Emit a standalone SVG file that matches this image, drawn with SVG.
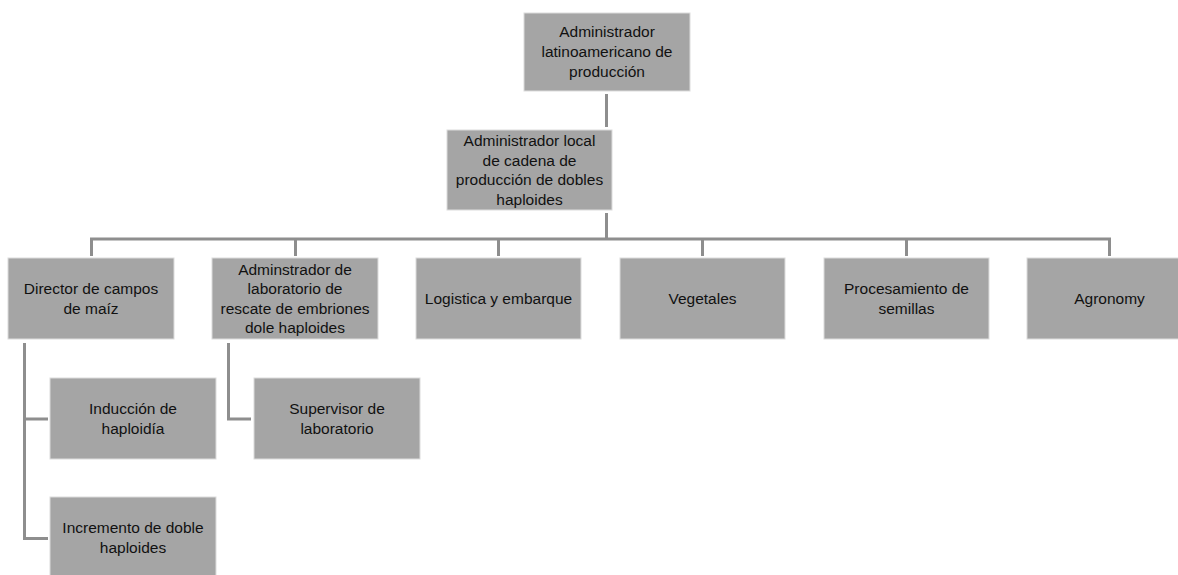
<svg xmlns="http://www.w3.org/2000/svg" width="1178" height="575" viewBox="0 0 1178 575">
<style>
.box{fill:#a5a5a5;stroke:#dcdcdc;stroke-width:1}
.t{font-family:"Liberation Sans",Arial,sans-serif;font-size:15.5px;fill:#111;text-anchor:middle}
.c{stroke:#8e8e8e;stroke-width:3;fill:none}
</style>
<rect width="1178" height="575" fill="#fff"/>
<g id="connectors">
<path class="c" d="M606.5 94V127"/>
<path class="c" d="M606.5 213V239"/>
<path class="c" d="M91.5 256V239H1109.5V256"/>
<path class="c" d="M295.5 239V256M498.5 239V256M702.5 239V256M906.5 239V256"/>
<path class="c" d="M48 419H24.5V343M24.5 419V538.5H48"/>
<path class="c" d="M251 419H228.5V343"/>
</g>
<g id="n_top"><rect class="box" x="524" y="13" width="166" height="78"/>
<text class="t" x="607" y="37">Administrador</text><text class="t" x="607" y="57">latinoamericano de</text><text class="t" x="607" y="77">producción</text></g>
<g id="n_local"><rect class="box" x="447" y="130" width="165" height="80"/>
<text class="t" x="529.5" y="146">Administrador local</text><text class="t" x="529.5" y="165.5">de cadena de</text><text class="t" x="529.5" y="185">producción de dobles</text><text class="t" x="529.5" y="204.5">haploides</text></g>
<g id="n_director"><rect class="box" x="8" y="258" width="166" height="81"/>
<text class="t" x="91" y="294">Director de campos</text><text class="t" x="91" y="314">de maíz</text></g>
<g id="n_lab"><rect class="box" x="212" y="258" width="166" height="81"/>
<text class="t" x="295" y="274.5">Adminstrador de</text><text class="t" x="295" y="294">laboratorio de</text><text class="t" x="295" y="313.5">rescate de embriones</text><text class="t" x="295" y="333">dole haploides</text></g>
<g id="n_log"><rect class="box" x="416" y="258" width="165" height="81"/>
<text class="t" x="498.5" y="304">Logistica y embarque</text></g>
<g id="n_veg"><rect class="box" x="620" y="258" width="165" height="81"/>
<text class="t" x="702.5" y="304">Vegetales</text></g>
<g id="n_proc"><rect class="box" x="824" y="258" width="165" height="81"/>
<text class="t" x="906.5" y="294">Procesamiento de</text><text class="t" x="906.5" y="314">semillas</text></g>
<g id="n_agro"><rect class="box" x="1027" y="258" width="165" height="81"/>
<text class="t" x="1109.5" y="304">Agronomy</text></g>
<g id="n_ind"><rect class="box" x="50" y="378" width="166" height="81"/>
<text class="t" x="133" y="414">Inducción de</text><text class="t" x="133" y="434">haploidía</text></g>
<g id="n_inc"><rect class="box" x="50" y="497" width="166" height="81"/>
<text class="t" x="133" y="533">Incremento de doble</text><text class="t" x="133" y="553">haploides</text></g>
<g id="n_sup"><rect class="box" x="254" y="378" width="166" height="81"/>
<text class="t" x="337" y="414">Supervisor de</text><text class="t" x="337" y="434">laboratorio</text></g>
</svg>
